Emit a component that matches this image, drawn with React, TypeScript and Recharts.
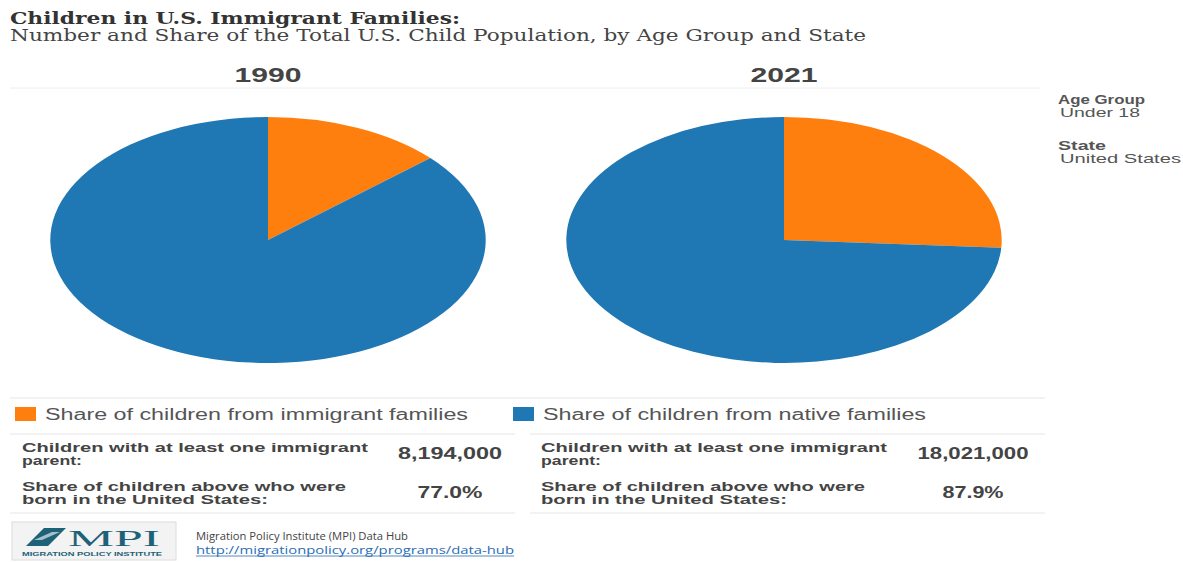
import React from 'react'
import { PieChart, Pie, Cell } from 'recharts'

const years = ['1990', '2021']
const immigrantShare = [13.4, 26.0]
const nativeShare = [86.6, 74.0]
const sliceNames = [
  'Share of children from immigrant families',
  'Share of children from native families',
]
const sliceColors = ['#ff7f0e', '#1f77b4']
const withImmigrantParent = ['8,194,000', '18,021,000']
const bornInUS = ['77.0%', '87.9%']
const filters = [
  ['Age Group', 'Under 18'],
  ['State', 'United States'],
]

const SANS = '"Liberation Sans", Arial, sans-serif'
const SERIF = '"DejaVu Serif", Georgia, serif'

// pies are drawn as circles then stretched sideways, like the source
const R = 123
const STRETCH = 1.77
const pieCx = [268, 784]
const pieCy = 240

function YearPie({ idx }: { idx: number }) {
  const data = [
    { name: sliceNames[0], value: immigrantShare[idx] },
    { name: sliceNames[1], value: nativeShare[idx] },
  ]
  const size = R * 2 + 2
  return (
    <div
      style={{
        position: 'absolute',
        left: pieCx[idx] - size / 2,
        top: pieCy - size / 2,
        width: size,
        height: size,
        transform: `scaleX(${STRETCH})`,
        transformOrigin: 'center',
      }}
    >
      <PieChart width={size} height={size} margin={{ top: 0, right: 0, bottom: 0, left: 0 }}>
        <Pie
          data={data}
          dataKey="value"
          nameKey="name"
          cx={size / 2}
          cy={size / 2}
          innerRadius={0}
          outerRadius={R}
          startAngle={90}
          endAngle={-270}
          stroke="none"
          isAnimationActive={false}
        >
          {data.map((d, i) => (
            <Cell key={d.name} fill={sliceColors[i]} />
          ))}
        </Pie>
      </PieChart>
    </div>
  )
}

function T({
  x,
  y,
  w,
  size,
  bold,
  fill = '#444',
  family = SANS,
  anchor = 'start',
  children,
}: {
  x: number
  y: number
  w?: number
  size: number
  bold?: boolean
  fill?: string
  family?: string
  anchor?: 'start' | 'middle' | 'end'
  children: React.ReactNode
}) {
  return (
    <text
      x={x}
      y={y}
      fontSize={size}
      fontFamily={family}
      fontWeight={bold ? 'bold' : 'normal'}
      fill={fill}
      textAnchor={anchor}
      textLength={w}
      lengthAdjust={w ? 'spacingAndGlyphs' : undefined}
    >
      {children}
    </text>
  )
}

const App = () => {
  const tableX = [22, 541]
  const valueX = [450, 973]
  const valueW = [
    [104, 65],
    [111, 61],
  ]
  const rowLineSpan = [
    [10, 515],
    [530, 1045],
  ]
  const filterW = [
    [87, 80],
    [48, 121],
  ]
  return (
    <div
      style={{
        position: 'absolute',
        left: 0,
        top: 0,
        width: 1183,
        height: 562,
        background: '#fff',
        overflow: 'hidden',
      }}
    >
      {years.map((y, i) => (
        <YearPie key={y} idx={i} />
      ))}
      <svg
        width={1183}
        height={562}
        style={{ position: 'absolute', left: 0, top: 0, pointerEvents: 'none' }}
      >
        <T x={10} y={24} w={450} size={16.5} bold fill="#333" family={SERIF}>
          Children in U.S. Immigrant Families:
        </T>
        <T x={10} y={41} w={856} size={16.5} fill="#444" family={SERIF}>
          Number and Share of the Total U.S. Child Population, by Age Group and State
        </T>

        {years.map((y, i) => (
          <T key={y} x={pieCx[i]} y={82} w={67} size={20} bold anchor="middle" fill="#444">
            {y}
          </T>
        ))}
        <line x1={10} x2={1040} y1={88} y2={88} stroke="#eeeeee" />

        {filters.map(([label, value], i) => (
          <g key={label}>
            <T x={1058} y={104 + i * 46} w={filterW[i][0]} size={13.5} bold fill="#555">
              {label}
            </T>
            <T x={1060} y={117 + i * 46} w={filterW[i][1]} size={13.5} fill="#555">
              {value}
            </T>
          </g>
        ))}

        <line x1={10} x2={1045} y1={398} y2={398} stroke="#e6e6e6" />
        {sliceNames.map((name, i) => (
          <g key={name}>
            <rect x={i === 0 ? 15 : 513} y={407} width={21} height={14} fill={sliceColors[i]} />
            <T x={i === 0 ? 45 : 543} y={420} w={i === 0 ? 423 : 383} size={16} fill="#555">
              {name}
            </T>
          </g>
        ))}

        {years.map((y, i) => (
          <g key={'tbl' + y}>
            <line
              x1={rowLineSpan[i][0]}
              x2={rowLineSpan[i][1]}
              y1={434}
              y2={434}
              stroke="#e6e6e6"
            />
            <T x={tableX[i]} y={452} w={346} size={13.5} bold>
              Children with at least one immigrant
            </T>
            <T x={tableX[i]} y={465} w={60} size={13.5} bold>
              parent:
            </T>
            <T x={valueX[i]} y={459} w={valueW[i][0]} size={17} bold anchor="middle">
              {withImmigrantParent[i]}
            </T>
            <T x={tableX[i]} y={491} w={324} size={13.5} bold>
              Share of children above who were
            </T>
            <T x={tableX[i]} y={504} w={246} size={13.5} bold>
              born in the United States:
            </T>
            <T x={valueX[i]} y={498} w={valueW[i][1]} size={17} bold anchor="middle">
              {bornInUS[i]}
            </T>
            <line
              x1={rowLineSpan[i][0]}
              x2={rowLineSpan[i][1]}
              y1={513}
              y2={513}
              stroke="#e6e6e6"
            />
          </g>
        ))}

        {/* MPI logo block */}
        <rect x={12} y={522} width={164} height={38} fill="#f3f3f3" stroke="#dcdcdc" />
        <polygon points="26,546 44,528 66,528 48,546" fill="#1e6278" />
        <polygon points="34,540 52,532 60,532 42,540" fill="#ffffff" opacity={0.6} />
        <T x={68} y={546} w={92} size={24} family={'"Liberation Serif", serif'} fill="#1e6278">
          MPI
        </T>
        <T x={22} y={556} w={140} size={5} bold fill="#1e6278">
          MIGRATION POLICY INSTITUTE
        </T>

        <T x={196} y={540} w={212} size={11} family={'"Open Sans", sans-serif'} fill="#444">
          Migration Policy Institute (MPI) Data Hub
        </T>
        <T x={196} y={554} w={318} size={11} family={'"Open Sans", sans-serif'} fill="#2a6db5">
          http://migrationpolicy.org/programs/data-hub
        </T>
        <line x1={196} x2={514} y1={556} y2={556} stroke="#2a6db5" strokeWidth={0.8} />
      </svg>
    </div>
  )
}

export default App
